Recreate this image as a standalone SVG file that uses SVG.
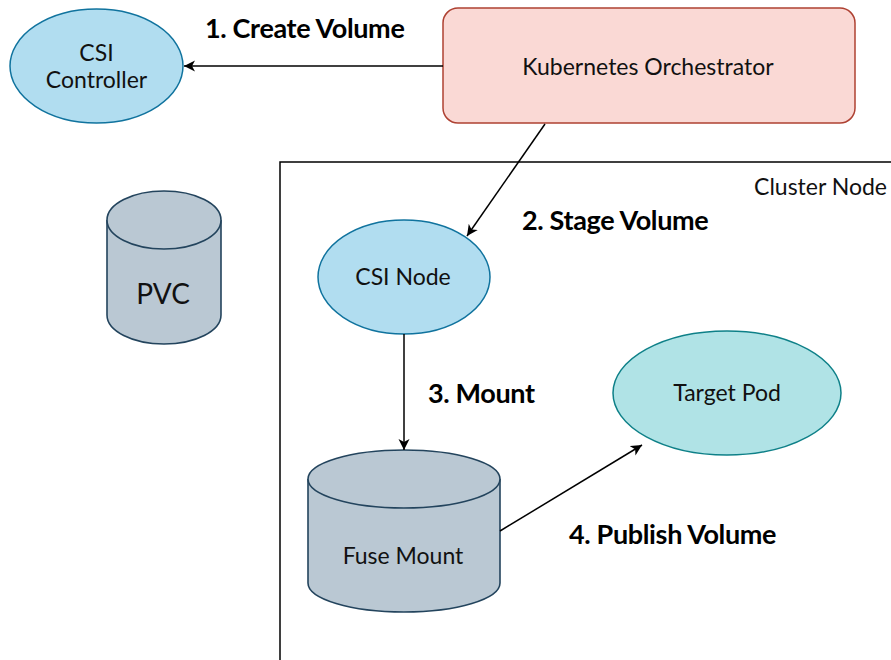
<svg xmlns="http://www.w3.org/2000/svg" width="891" height="660" viewBox="0 0 891 660">
<style>
  .lbl { font-family: Lato, "Liberation Sans", sans-serif; font-size: 23px; fill: #111; text-anchor: middle; }
  .edge { font-family: Lato, "Liberation Sans", sans-serif; font-size: 27px; font-weight: bold; fill: #000; letter-spacing: -0.35px; }
  .blue { fill: #b1ddf0; stroke: #10739e; stroke-width: 1.5; }
  .cyl { fill: #bac8d3; stroke: #23445d; stroke-width: 1.6; }
  .conn { stroke: #000; stroke-width: 1.5; fill: none; }
</style>
<defs>
  <marker id="arr" viewBox="0 0 12 12" refX="11" refY="6" markerWidth="12" markerHeight="12" markerUnits="userSpaceOnUse" orient="auto">
    <path d="M0,0.5 L11,6 L0,11.5 L3,6 Z" fill="#000"/>
  </marker>
</defs>
<rect width="891" height="660" fill="#fff"/>
<g id="cluster-node">
  <rect x="280" y="162" width="640" height="520" fill="none" stroke="#000" stroke-width="1.5"/>
  <text x="887" y="195" font-family="Lato, 'Liberation Sans', sans-serif" font-size="23" fill="#111" text-anchor="end">Cluster Node</text>
</g>
<g id="csi-controller">
  <ellipse class="blue" cx="96.5" cy="66" rx="86.5" ry="57"/>
  <text class="lbl" x="96.5" y="61">CSI</text>
  <text class="lbl" x="96.5" y="88">Controller</text>
</g>
<g id="kubernetes-orchestrator">
  <rect x="443" y="8" width="412" height="115" rx="15" fill="#fad9d5" stroke="#ae4132" stroke-width="1.5"/>
  <text class="lbl" x="648" y="75">Kubernetes Orchestrator</text>
</g>
<g id="pvc">
  <path class="cyl" d="M107,220 A57,29 0 0 1 221,220 L221,315 A57,29 0 0 1 107,315 Z"/>
  <path class="cyl" d="M107,220 A57,29 0 0 0 221,220" fill="none"/>
  <text class="lbl" x="163" y="304" style="font-size:28px">PVC</text>
</g>
<g id="csi-node">
  <ellipse class="blue" cx="404" cy="277" rx="86" ry="57"/>
  <text class="lbl" x="403" y="285">CSI Node</text>
</g>
<g id="fuse-mount">
  <path class="cyl" d="M308,479 A96,29 0 0 1 500,479 L500,583 A96,29 0 0 1 308,583 Z"/>
  <path class="cyl" d="M308,479 A96,29 0 0 0 500,479" fill="none"/>
  <text class="lbl" x="403" y="564">Fuse Mount</text>
</g>
<g id="target-pod">
  <ellipse cx="727" cy="393" rx="114" ry="62" fill="#b0e3e6" stroke="#0e8088" stroke-width="1.5"/>
  <text class="lbl" x="727" y="401">Target Pod</text>
</g>
<g id="connectors">
  <line class="conn" x1="443" y1="66" x2="184" y2="66" marker-end="url(#arr)"/>
  <line class="conn" x1="545" y1="124" x2="467" y2="236" marker-end="url(#arr)"/>
  <line class="conn" x1="404" y1="334" x2="404" y2="450" marker-end="url(#arr)"/>
  <line class="conn" x1="500" y1="531" x2="642" y2="445" marker-end="url(#arr)"/>
  <text class="edge" x="205" y="38">1. Create Volume</text>
  <text class="edge" x="522" y="230">2. Stage Volume</text>
  <text class="edge" x="428" y="403">3. Mount</text>
  <text class="edge" x="569" y="544">4. Publish Volume</text>
</g>
</svg>
